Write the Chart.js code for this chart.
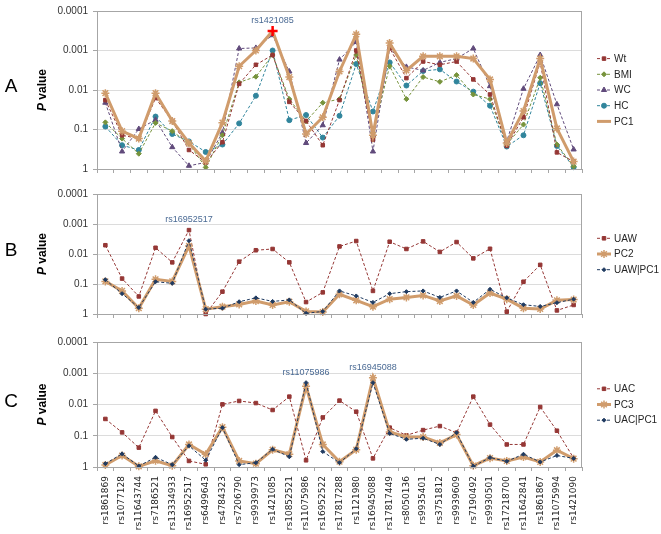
<!DOCTYPE html>
<html>
<head>
<meta charset="utf-8">
<script src="https://cdn.jsdelivr.net/npm/chart.js@4.4.1/dist/chart.umd.min.js"></script>
<style>
  html, body { margin: 0; padding: 0; background: #fff; }
  #wrap { position: relative; width: 661px; height: 534px; overflow: hidden; }
  .panel { position: absolute; left: 0; width: 661px; }
</style>
</head>
<body>
<div id="wrap">
  <div class="panel" style="top:0;height:180px"><canvas id="chartA"></canvas></div>
  <div class="panel" style="top:180px;height:145px"><canvas id="chartB"></canvas></div>
  <div class="panel" style="top:325px;height:209px"><canvas id="chartC"></canvas></div>
</div>
<script>
// SNPs no eixo x
const snps = ['rs1861869', 'rs1077128', 'rs11643744', 'rs7186521', 'rs13334933', 'rs16952517',
  'rs6499643', 'rs4784323', 'rs7206790', 'rs9939973', 'rs1421085', 'rs10852521', 'rs11075986',
  'rs16952522', 'rs17817288', 'rs1121980', 'rs16945088', 'rs17817449', 'rs8050136', 'rs9935401',
  'rs3751812', 'rs9939609', 'rs7190492', 'rs9930501', 'rs17218700', 'rs11642841', 'rs1861867',
  'rs11075994', 'rs1421090'];

const yTicks = [1, 0.1, 0.01, 0.001, 0.0001];

// Painel A
const pWt = [0.018, 0.14, 0.17, 0.016, 0.061, 0.33, 0.68, 0.21, 0.007, 0.0023, 0.0013, 0.02, 0.061, 0.25, 0.018,
  0.001, 0.18, 0.00087, 0.005, 0.0019, 0.0023, 0.0019, 0.0054, 0.013, 0.26, 0.049, 0.002, 0.38, 0.65];
const pBMI = [0.066, 0.17, 0.41, 0.068, 0.11, 0.23, 0.91, 0.14, 0.0064, 0.0046, 0.0013, 0.017, 0.062, 0.021, 0.017,
  0.0013, 0.12, 0.0025, 0.017, 0.0047, 0.0062, 0.0042, 0.013, 0.017, 0.24, 0.075, 0.0049, 0.24, 0.86];
const pWC = [0.021, 0.36, 0.097, 0.057, 0.28, 0.83, 0.68, 0.12, 0.00089, 0.00086, 0.00041, 0.0034, 0.22, 0.078, 0.0017,
  0.00061, 0.36, 0.00087, 0.0026, 0.0032, 0.002, 0.0016, 0.00089, 0.008, 0.2, 0.0093, 0.0013, 0.023, 0.32];
const pHC = [0.084, 0.25, 0.33, 0.047, 0.13, 0.2, 0.37, 0.24, 0.07, 0.014, 0.001, 0.058, 0.043, 0.16, 0.045,
  0.0022, 0.035, 0.002, 0.0077, 0.0033, 0.003, 0.0061, 0.011, 0.025, 0.27, 0.14, 0.0067, 0.26, 0.9];
const pPC1 = [0.012, 0.11, 0.17, 0.012, 0.061, 0.22, 0.63, 0.067, 0.0025, 0.001, 0.00032, 0.0047, 0.13, 0.049, 0.0034,
  0.00039, 0.14, 0.00065, 0.0032, 0.0014, 0.0014, 0.0014, 0.0016, 0.0054, 0.22, 0.034, 0.0016, 0.094, 0.65];

// Painel B
const pUAW = [0.0051, 0.066, 0.26, 0.0062, 0.019, 0.0016, 1.0, 0.18, 0.018, 0.0075, 0.0068, 0.019, 0.4, 0.19, 0.0056,
  0.0037, 0.17, 0.0039, 0.0068, 0.0038, 0.0085, 0.004, 0.014, 0.0067, 0.84, 0.084, 0.023, 0.76, 0.5];
const pPC2 = [0.082, 0.17, 0.64, 0.07, 0.082, 0.0054, 0.69, 0.57, 0.48, 0.37, 0.5, 0.39, 0.82, 0.86, 0.22,
  0.35, 0.57, 0.32, 0.28, 0.24, 0.37, 0.25, 0.5, 0.2, 0.32, 0.64, 0.68, 0.35, 0.33];
const pUAWadj = [0.072, 0.21, 0.61, 0.084, 0.095, 0.0036, 0.69, 0.64, 0.39, 0.29, 0.38, 0.34, 0.95, 0.82, 0.17,
  0.25, 0.41, 0.21, 0.18, 0.17, 0.28, 0.17, 0.41, 0.15, 0.29, 0.49, 0.56, 0.42, 0.32];

// Painel C
const pUAC = [0.029, 0.078, 0.24, 0.016, 0.11, 0.64, 0.82, 0.0099, 0.0077, 0.009, 0.015, 0.0056, 0.61, 0.026, 0.0075,
  0.017, 0.53, 0.055, 0.097, 0.066, 0.049, 0.08, 0.0056, 0.044, 0.19, 0.19, 0.012, 0.069, 0.52];
const pPC3 = [0.86, 0.43, 0.95, 0.63, 0.91, 0.19, 0.39, 0.053, 0.64, 0.78, 0.28, 0.39, 0.0026, 0.19, 0.68,
  0.28, 0.0014, 0.076, 0.11, 0.11, 0.17, 0.092, 0.91, 0.52, 0.64, 0.48, 0.69, 0.29, 0.54];
const pUACadj = [0.78, 0.38, 0.93, 0.49, 0.84, 0.21, 0.61, 0.055, 0.84, 0.73, 0.27, 0.47, 0.002, 0.32, 0.73,
  0.26, 0.002, 0.084, 0.13, 0.12, 0.19, 0.08, 0.95, 0.5, 0.66, 0.39, 0.69, 0.43, 0.53];

const TAN = '#d09c6c';
const topHitA = 10; // rs1421085, marcado com a cruz vermelha

function dashed(label, data, color, style, radius) {
    return {
        label, data,
        borderColor: color, backgroundColor: color,
        borderWidth: 1, borderDash: [3, 2],
        pointStyle: style, pointRadius: radius,
        pointBackgroundColor: color, pointBorderColor: color, pointBorderWidth: 1,
        order: 1, clip: false
    };
}

function thick(label, data) {
    return {
        label, data,
        borderColor: TAN, backgroundColor: TAN,
        borderWidth: 3,
        pointStyle: 'star', pointRadius: 4,
        pointBackgroundColor: TAN, pointBorderColor: TAN, pointBorderWidth: 1.5,
        order: 0, clip: false
    };
}

// Moldura, letra do painel, título "P value", legenda e rótulos dos SNPs de destaque
const panelDecor = {
    id: 'panelDecor',
    afterDraw(chart, args, opts) {
        const {ctx, chartArea: a, scales} = chart;
        ctx.save();
        ctx.strokeStyle = '#a6a6a6';
        ctx.lineWidth = 1;
        ctx.setLineDash([]);
        ctx.strokeRect(a.left + 0.5, a.top + 0.5, a.right - a.left - 1, a.bottom - a.top);

        const cy = (a.top + a.bottom) / 2;
        ctx.fillStyle = '#000';
        ctx.font = '19px "Liberation Sans", Arial, sans-serif';
        ctx.textAlign = 'center';
        ctx.textBaseline = 'middle';
        ctx.fillText(opts.letter, 11, cy - 3);

        // título do eixo y: P em itálico
        ctx.save();
        ctx.translate(43, cy);
        ctx.rotate(-Math.PI / 2);
        ctx.textAlign = 'left';
        const f1 = 'bold italic 12px "Liberation Sans", Arial, sans-serif';
        const f2 = 'bold 12px "Liberation Sans", Arial, sans-serif';
        ctx.font = f1;
        const w1 = ctx.measureText('P ').width;
        ctx.font = f2;
        const w2 = ctx.measureText('value').width;
        ctx.font = f1;
        ctx.fillText('P', -(w1 + w2) / 2, 0);
        ctx.font = f2;
        ctx.fillText('value', -(w1 + w2) / 2 + w1, 0);
        ctx.restore();

        // legenda
        const dsets = chart.data.datasets;
        const step = 15.7;
        let y = cy - step * (dsets.length - 1) / 2;
        const x0 = a.right + 15;
        ctx.font = '10px "Liberation Sans", Arial, sans-serif';
        ctx.textAlign = 'left';
        dsets.forEach(ds => {
            ctx.strokeStyle = ds.borderColor;
            ctx.lineWidth = ds.borderWidth;
            ctx.setLineDash(ds.borderDash || []);
            ctx.beginPath();
            ctx.moveTo(x0, y);
            ctx.lineTo(x0 + 14, y);
            ctx.stroke();
            ctx.setLineDash([]);
            ctx.fillStyle = ds.pointBackgroundColor;
            ctx.strokeStyle = ds.pointBackgroundColor;
            ctx.lineWidth = ds.pointBorderWidth;
            const style = typeof ds.pointStyle === 'function' ? 'star' : ds.pointStyle;
            Chart.helpers.drawPoint(ctx, {pointStyle: style, radius: ds.pointRadius, borderWidth: ds.pointBorderWidth, rotation: 0}, x0 + 7, y);
            ctx.fillStyle = '#262626';
            ctx.fillText(ds.label, x0 + 17, y + 0.5);
            y += step;
        });

        // rótulos dos SNPs mais significativos
        ctx.fillStyle = '#4a6a94';
        ctx.font = '9px "Liberation Sans", Arial, sans-serif';
        ctx.textAlign = 'center';
        ctx.textBaseline = 'bottom';
        (opts.hits || []).forEach(h => {
            const minP = Math.min(...dsets.map(ds => ds.data[h.index]));
            const px = scales.x.getPixelForValue(h.index);
            const py = scales.y.getPixelForValue(minP);
            ctx.fillText(h.text, px, py - 6);
        });
        ctx.restore();
    }
};

function makePanel(id, datasets, opts) {
    const ctx = document.getElementById(id).getContext('2d');
    return new Chart(ctx, {
        type: 'line',
        data: {labels: snps, datasets},
        options: {
            responsive: true,
            maintainAspectRatio: false,
            animation: false,
            layout: {padding: {left: 0, right: 79, top: opts.top, bottom: 0}},
            elements: {line: {tension: 0}},
            plugins: {
                legend: {display: false},
                tooltip: {enabled: false},
                panelDecor: {letter: opts.letter, hits: opts.hits}
            },
            scales: {
                x: {
                    type: 'category',
                    offset: true,
                    grid: {display: true, drawOnChartArea: false, offset: true, tickLength: 4, tickColor: '#a6a6a6', color: '#a6a6a6'},
                    border: {color: '#a6a6a6'},
                    ticks: {
                        display: opts.showLabels,
                        autoSkip: false,
                        minRotation: 90,
                        maxRotation: 90,
                        padding: 5,
                        color: '#222',
                        font: {family: '"DejaVu Sans", Verdana, sans-serif', size: 9}
                    },
                    afterFit: scale => { scale.height = opts.xHeight; }
                },
                y: {
                    type: 'logarithmic',
                    reverse: true,
                    min: 0.0001,
                    max: 1,
                    grid: {color: '#dcdcdc', tickLength: 4, tickColor: '#a6a6a6'},
                    border: {color: '#a6a6a6'},
                    ticks: {
                        padding: 5,
                        color: '#333',
                        font: {family: '"Liberation Sans", Arial, sans-serif', size: 10},
                        callback: v => String(v)
                    },
                    afterBuildTicks: scale => { scale.ticks = yTicks.map(v => ({value: v})); },
                    afterFit: scale => { scale.width = 97; }
                }
            }
        },
        plugins: [panelDecor]
    });
}

// cruz vermelha no rs1421085
const pc1 = thick('PC1', pPC1);
pc1.pointStyle = c => c.dataIndex === topHitA ? 'cross' : 'star';
pc1.pointRadius = c => c.dataIndex === topHitA ? 5 : 4;
pc1.pointBorderColor = c => c.dataIndex === topHitA ? '#ff0000' : TAN;
pc1.pointBorderWidth = c => c.dataIndex === topHitA ? 2.5 : 1.5;
pc1.pointBackgroundColor = TAN;

makePanel('chartA', [
    dashed('Wt', pWt, '#953735', 'rect', 2.5),
    dashed('BMI', pBMI, '#77933c', 'rectRot', 2.5),
    dashed('WC', pWC, '#604a7b', 'triangle', 3),
    dashed('HC', pHC, '#31859c', 'circle', 2.5),
    pc1
], {letter: 'A', top: 7, xHeight: 7, showLabels: false, hits: [{index: 10, text: 'rs1421085'}]});

const uawAdj = dashed('UAW|PC1', pUAWadj, '#1f3a60', 'rectRot', 2);
uawAdj.order = -1;
makePanel('chartB', [
    dashed('UAW', pUAW, '#953735', 'rect', 2.5),
    thick('PC2', pPC2),
    uawAdj
], {letter: 'B', top: 14, xHeight: 6, showLabels: false, hits: [{index: 5, text: 'rs16952517'}]});

const uacAdj = dashed('UAC|PC1', pUACadj, '#1f3a60', 'rectRot', 2);
uacAdj.order = -1;
makePanel('chartC', [
    dashed('UAC', pUAC, '#953735', 'rect', 2.5),
    thick('PC3', pPC3),
    uacAdj
], {letter: 'C', top: 17, xHeight: 67, showLabels: true, hits: [{index: 12, text: 'rs11075986'}, {index: 16, text: 'rs16945088'}]});
</script>
</body>
</html>
